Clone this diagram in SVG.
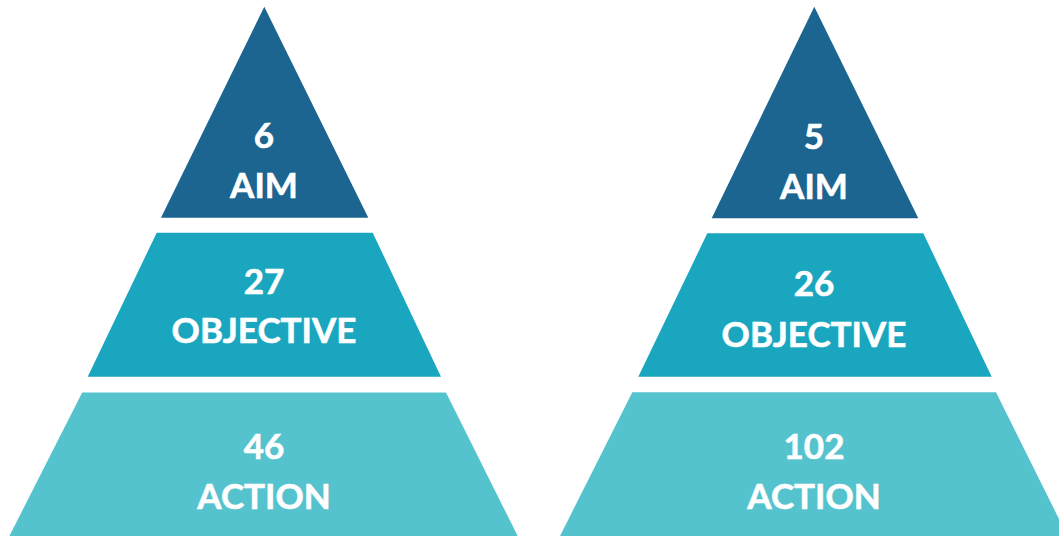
<svg xmlns="http://www.w3.org/2000/svg" width="1059" height="536" viewBox="0 0 1059 536">
<style>
.top{fill:#1b6590}
.mid{fill:#1ba6c0}
.bot{fill:#55c3ce}
text{font-family:Lato,"Open Sans","Liberation Sans",sans-serif;font-weight:bold;font-size:35px;fill:#ffffff;stroke:#ffffff;stroke-width:0.6;text-anchor:middle}
</style>
<rect width="1059" height="536" fill="#ffffff"/>
<g id="left-aim">
<polygon class="top" points="264.3,6.7 368.3,217.7 161,217.7"/>
<text x="264" y="148">6</text>
<text x="264" y="198">AIM</text>
</g>
<g id="left-objective">
<polygon class="mid" points="156.7,232.7 372.7,232.7 441,376.7 87.7,376.7"/>
<text x="264" y="294">27</text>
<text x="264" y="343">OBJECTIVE</text>
</g>
<g id="left-action">
<polygon class="bot" points="82.2,392.5 446,392.5 517.7,536 9.4,536"/>
<text x="264" y="459">46</text>
<text x="264" y="509">ACTION</text>
</g>
<g id="right-aim">
<polygon class="top" points="814.3,6.7 918.3,218.3 711.7,218.3"/>
<text x="814" y="149">5</text>
<text x="814" y="199">AIM</text>
</g>
<g id="right-objective">
<polygon class="mid" points="707.3,233.3 923.3,233.3 991.7,376.7 638.3,376.7"/>
<text x="814" y="296">26</text>
<text x="814" y="347">OBJECTIVE</text>
</g>
<g id="right-action">
<polygon class="bot" points="632.3,392.3 996,392.3 1067.5,536 560,536"/>
<text x="814" y="459">102</text>
<text x="814" y="509">ACTION</text>
</g>
<g id="connectors"></g>
</svg>
